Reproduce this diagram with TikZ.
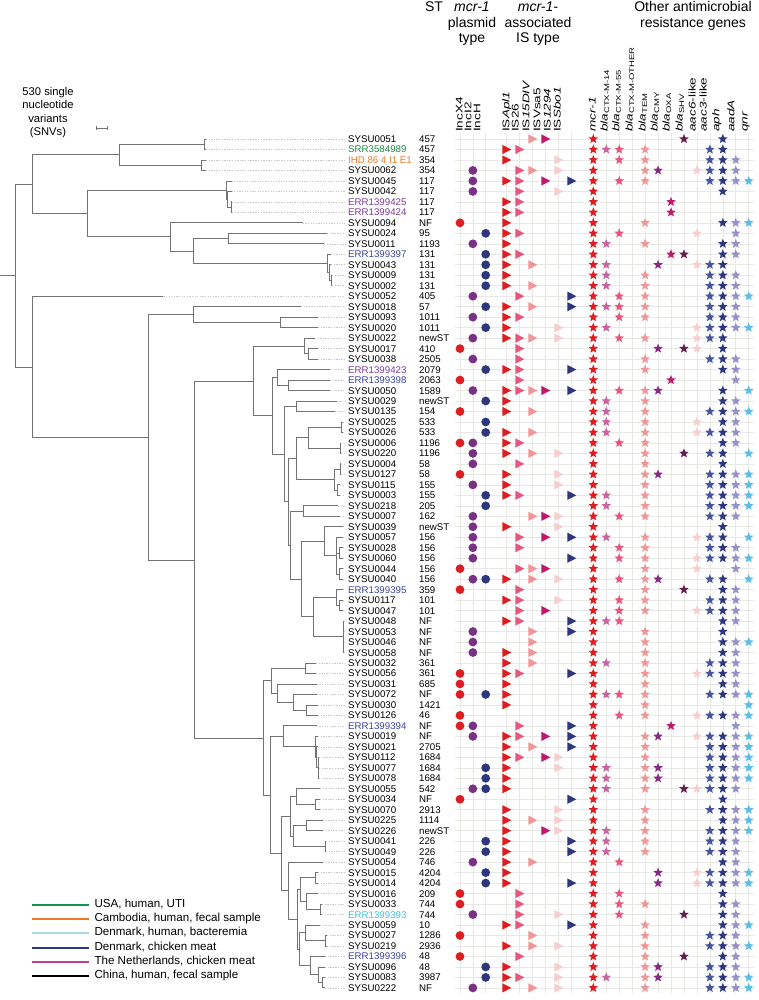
\documentclass[tikz,border=0pt]{standalone}
\usepackage{fontspec}
\setmainfont{Liberation Sans}
\usetikzlibrary{shapes.geometric}
\definecolor{cc1}{RGB}{220,30,35}
\definecolor{cc2}{RGB}{120,50,130}
\definecolor{cc3}{RGB}{45,55,125}
\definecolor{tc1}{RGB}{220,30,35}
\definecolor{tc2}{RGB}{232,85,125}
\definecolor{tc3}{RGB}{240,150,150}
\definecolor{tc4}{RGB}{190,25,110}
\definecolor{tc5}{RGB}{247,205,205}
\definecolor{tc6}{RGB}{45,55,125}
\definecolor{sc1}{RGB}{220,30,35}
\definecolor{sc2}{RGB}{200,100,160}
\definecolor{sc3}{RGB}{232,85,125}
\definecolor{sc4}{RGB}{240,120,150}
\definecolor{sc5}{RGB}{240,150,150}
\definecolor{sc6}{RGB}{130,45,130}
\definecolor{sc7}{RGB}{190,25,110}
\definecolor{sc8}{RGB}{100,30,80}
\definecolor{sc9}{RGB}{247,205,205}
\definecolor{sc10}{RGB}{70,85,160}
\definecolor{sc11}{RGB}{45,55,125}
\definecolor{sc12}{RGB}{150,145,200}
\definecolor{sc13}{RGB}{90,190,230}
\definecolor{labgreen}{RGB}{30,140,70}
\definecolor{laborange}{RGB}{240,120,40}
\definecolor{labpurple}{RGB}{125,60,150}
\definecolor{labblue}{RGB}{60,70,160}
\definecolor{labcyan}{RGB}{70,190,215}
\definecolor{leggreen}{RGB}{20,150,80}
\definecolor{legorange}{RGB}{240,120,40}
\definecolor{leglblue}{RGB}{170,215,230}
\definecolor{legdblue}{RGB}{40,55,140}
\definecolor{legmag}{RGB}{190,60,150}
\definecolor{treegray}{RGB}{115,115,115}
\definecolor{leadgray}{RGB}{200,200,200}
\definecolor{gridgray}{RGB}{232,232,228}
\newcommand\ry[1]{139+((#1)-1)*10.48}
\newcommand\tH[3]{\draw[tree] (#1,{\ry{#3}}) -- (#2,{\ry{#3}});}
\newcommand\tV[3]{\draw[tree] (#1,{\ry{#2}}) -- (#1,{\ry{#3}});}
\newcommand\tL[3]{\tH{#1}{#2}{#3}\draw[leader] (#2,{\ry{#3}}) -- (345,{\ry{#3}});}
\newcommand\tN[5]{\tH{#1}{#2}{#3}\tV{#2}{#4}{#5}}
\newcommand\collab[2]{\node[colhead] at (#1,132) {\scalebox{1.4}[1]{#2}};}
\begin{document}
\begin{tikzpicture}[x=1pt,y=-1pt,
  tree/.style={draw=treegray,line width=0.8pt,line cap=rect},
  leader/.style={draw=leadgray,line width=0.6pt,dash pattern=on 1.3pt off 1.3pt},
  gridl/.style={draw=gridgray,line width=0.6pt},
  starm/.style={star,star points=5,star point ratio=2.3,inner sep=0pt,minimum size=10pt,draw=none},
  rowlab/.style={anchor=base west,inner sep=0pt,font=\fontsize{9.7}{10}\selectfont},
  colhead/.style={rotate=90,anchor=mid west,inner sep=0pt,font=\fontsize{9.7}{10}\selectfont},
  head/.style={anchor=base,inner sep=0pt,font=\fontsize{14}{15}\selectfont},
  legtext/.style={anchor=mid west,inner sep=0pt,font=\fontsize{11.6}{12}\selectfont},
  legline/.style={line width=2pt}]
\useasboundingbox (0,0) rectangle (759,1000);
\fill[white] (0,0) rectangle (759,1000);
% grid
\foreach \gx in {460,472.85,485.7,506.7,519.7,532.7,545.7,558.7,571.7} \draw[gridl] (\gx,133) -- (\gx,993);
\foreach \k in {0,...,12} \draw[gridl] ({593.3+\k*12.95},133) -- ({593.3+\k*12.95},993);
\foreach \k in {1,...,82} \draw[gridl] (455,{\ry{\k}}) -- (754,{\ry{\k}});
% headers
\node[head] (hst) at (434,12) {ST};
\node[head] (hp1) at (472,12) {\textit{mcr-1}};
\node[head] (hp2) at (472,27.5) {plasmid};
\node[head] (hp3) at (472,43) {type};
\node[head] (hi1) at (538,12) {\textit{mcr-1-}};
\node[head] (hi2) at (538,27.5) {associated};
\node[head] (hi3) at (538,43) {IS type};
\node[head] (ho1) at (693,12) {Other antimicrobial};
\node[head] (ho2) at (693,27.5) {resistance genes};
\collab{460}{IncX4}
\collab{468.7}{IncI2}
\collab{477.7}{IncH}
\collab{506.7}{IS\textit{Apl1}}
\collab{516}{IS26}
\collab{526.7}{IS\textit{15DIV}}
\collab{537.7}{ISVsa5}
\collab{548}{IS\textit{1294}}
\collab{558}{IS\textit{Sbo1}}
\collab{593}{\textit{mcr-1}}
\collab{605}{\textit{bla}\textsubscript{CTX-M-14}}
\collab{616.7}{\textit{bla}\textsubscript{CTX-M-55}}
\collab{630}{\textit{bla}\textsubscript{CTX-M-OTHER}}
\collab{643}{\textit{bla}\textsubscript{TEM}}
\collab{655}{\textit{bla}\textsubscript{CMY}}
\collab{667}{\textit{bla}\textsubscript{OXA}}
\collab{680}{\textit{bla}\textsubscript{SHV}}
\collab{693}{\textit{aac6}-like}
\collab{704}{\textit{aac3}-like}
\collab{716.7}{\textit{aph}}
\collab{731.7}{\textit{aadA}}
\collab{745}{\textit{qnr}}
% scale
\node[font=\fontsize{11.2}{13.3}\selectfont,align=center,inner sep=0pt] (scl) at (48,112.5) {530 single\\nucleotide\\variants\\(SNVs)};
\draw[treegray,line width=0.7pt] (96.7,128.3) -- (107.7,128.3) (96.7,126.5) -- (96.7,130.1) (107.7,126.5) -- (107.7,130.1);
% markers
\foreach \rr/\lc/\lt/\ls in {
1/0/{3,4}/{1,8,11},
2/0/{1,2}/{1,2,3,5,10,11},
3/0/{1,5}/{1,3,5,10,11,12},
4/2/{2,3,5}/{1,5,6,9,10,11,12},
5/2/{1,2,4,6}/{1,3,5,10,11,12,13},
6/2/{2,5}/{1,11},
7/0/{1,2}/{1,7},
8/0/{1,2}/{1,7},
9/1/1/{1,5,11,12,13},
10/3/{1,2}/{1,3,9,12},
11/2/1/{1,2,5,11,12},
12/3/{1,2}/{1,7,8,11,12},
13/3/{1,3}/{1,2,6,9,10,11},
14/3/1/{1,2,5,10,11,12},
15/3/{1,3}/{1,2,5,10,11,12},
16/2/{2,6}/{1,3,5,10,11,12,13},
17/3/{1,3,6}/{1,2,3,5,10,11,12},
18/2/{1,2}/{1,3,5,10,11,12},
19/3/{1,5}/{1,2,9,10,11,12,13},
20/2/{1,2,3,5}/{1,3,5,9,10,11},
21/1/2/{1,6,8,9,11},
22/2/2/{1,5,10,11,12},
23/3/{1,2,6}/{1,5,11,12},
24/1/2/{1,7,12},
25/2/{1,2,3,4,6}/{1,3,5,6,11,13},
26/3/1/{1,2,5,11,12},
27/1/{1,3}/{1,2,5,10,11,12,13},
28/3/0/{1,2,5,9,11,12},
29/3/{1,3}/{1,2,5,9,10,11,12},
30/{1,2}/{1,2}/{1,3,5,11,12},
31/2/{1,3,5}/{1,5,8,10,11,13},
32/2/2/{1,5,11},
33/1/{1,5}/{1,5,6,10,11,12,13},
34/2/{1,5}/{1,5,10,11,12,13},
35/3/{1,2,6}/{1,2,5,10,11,12,13},
36/3/0/{1,2,5,10,11,12,13},
37/2/{3,4,5}/{1,3,5,10,11,12},
38/2/{1,5}/{1,11},
39/2/{2,4,6}/{1,2,5,9,10,11,13},
40/2/2/{1,3,5,10,11,12},
41/2/6/{1,3,5,9,10,11,12,13},
42/1/{2,3,4}/{1,5,9,12},
43/{2,3}/{1,3,5}/{1,3,5,6,10,11,13},
44/1/2/{1,5,8,11,12},
45/0/{1,2,5}/{1,3,5,10,11,12},
46/0/{2,4}/{1,3,5,9,10,11,12},
47/0/{1,2,6}/{1,2,3,11,12},
48/2/{3,6}/{1,5,11},
49/2/3/{1,5,11,12,13},
50/2/{1,3}/{1,5,11,12},
51/0/{1,3}/{1,2,5,10,11,12},
52/1/{1,2,6}/{1,5,9,10,11,12},
53/1/1/{1,5,11,12},
54/{1,3}/1/{1,2,3,5,10,11,12,13},
55/0/1/{1,5,13},
56/1/0/{1,3,5,9,10,11,12,13},
57/{1,2}/{2,6}/{1,7,12},
58/2/{1,2,4,6}/{1,5,6,9,10,11,12,13},
59/0/{1,3,6}/{1,5,10,11,12,13},
60/0/{1,2,4,5}/{1,5,10,11,12,13},
61/3/{1,5}/{1,2,5,6,10,11,12,13},
62/3/1/{1,2,5,6,10,11,12,13},
63/{2,3}/1/{1,2,5,8,9,10,11,12},
64/1/6/{1,11},
65/0/{1,5}/{1,5,10,11,12,13},
66/0/{1,3,5}/{1,5,11,12,13},
67/0/{1,4,5}/{1,2,5,10,11,12,13},
68/3/{1,6}/{1,2,5,10,11,12},
69/3/{1,6}/{1,2,5,10,11,12},
70/2/{1,3}/{1,3,11,12},
71/3/1/{1,6,9,10,11,12,13},
72/3/{1,6}/{1,6,9,10,11,12,13},
73/1/2/{1,3,11},
74/1/2/{1,3,5,11,12},
75/2/{2,5}/{1,3,8,11,12},
76/0/{1,2,6}/{1,5,11,12,13},
77/1/3/{1,5,10,11,12},
78/0/{1,3,5}/{1,5,10,11,12,13},
79/1/2/{1,5,8,11,12},
80/3/{1,5}/{1,5,6,10,11,12},
81/3/{1,2,5}/{1,2,5,6,10,11,12,13},
82/2/{1,3,5}/{1,5,10,11,12,13}}{
  \pgfmathsetmacro\yy{\ry{\rr}}
  \foreach \ci in \lc {\ifnum\ci>0 \fill[cc\ci] ({460+(\ci-1)*12.85},\yy) circle[radius=4.4];\fi}
  \foreach \ti in \lt {\ifnum\ti>0 \fill[tc\ti] ({506.7+(\ti-1)*13-4.3},{\yy-4.6}) -- ++(8.9,4.6) -- ++(-8.9,4.6) -- cycle;\fi}
  \foreach \si in \ls {\node[starm,fill=sc\si] at ({593.3+(\si-1)*12.95},\yy) {};}
}
% labels
\foreach \rr/\nm/\st/\lcol in {
1/SYSU0051/457/black, 2/SRR3584989/457/labgreen, 3/IHD 86 4 I1 E1/354/laborange,
4/SYSU0062/354/black, 5/SYSU0045/117/black, 6/SYSU0042/117/black,
7/ERR1399425/117/labpurple, 8/ERR1399424/117/labpurple, 9/SYSU0094/NF/black,
10/SYSU0024/95/black, 11/SYSU0011/1193/black, 12/ERR1399397/131/labblue,
13/SYSU0043/131/black, 14/SYSU0009/131/black, 15/SYSU0002/131/black,
16/SYSU0052/405/black, 17/SYSU0018/57/black, 18/SYSU0093/1011/black,
19/SYSU0020/1011/black, 20/SYSU0022/newST/black, 21/SYSU0017/410/black,
22/SYSU0038/2505/black, 23/ERR1399423/2079/labpurple, 24/ERR1399398/2063/labblue,
25/SYSU0050/1589/black, 26/SYSU0029/newST/black, 27/SYSU0135/154/black,
28/SYSU0025/533/black, 29/SYSU0026/533/black, 30/SYSU0006/1196/black,
31/SYSU0220/1196/black, 32/SYSU0004/58/black, 33/SYSU0127/58/black,
34/SYSU0115/155/black, 35/SYSU0003/155/black, 36/SYSU0218/205/black,
37/SYSU0007/162/black, 38/SYSU0039/newST/black, 39/SYSU0057/156/black,
40/SYSU0028/156/black, 41/SYSU0060/156/black, 42/SYSU0044/156/black,
43/SYSU0040/156/black, 44/ERR1399395/359/labblue, 45/SYSU0117/101/black,
46/SYSU0047/101/black, 47/SYSU0048/NF/black, 48/SYSU0053/NF/black,
49/SYSU0046/NF/black, 50/SYSU0058/NF/black, 51/SYSU0032/361/black,
52/SYSU0056/361/black, 53/SYSU0031/685/black, 54/SYSU0072/NF/black,
55/SYSU0030/1421/black, 56/SYSU0126/46/black, 57/ERR1399394/NF/labblue,
58/SYSU0019/NF/black, 59/SYSU0021/2705/black, 60/SYSU0112/1684/black,
61/SYSU0077/1684/black, 62/SYSU0078/1684/black, 63/SYSU0055/542/black,
64/SYSU0034/NF/black, 65/SYSU0070/2913/black, 66/SYSU0225/1114/black,
67/SYSU0226/newST/black, 68/SYSU0041/226/black, 69/SYSU0049/226/black,
70/SYSU0054/746/black, 71/SYSU0015/4204/black, 72/SYSU0014/4204/black,
73/SYSU0016/209/black, 74/SYSU0033/744/black, 75/ERR1399393/744/labcyan,
76/SYSU0059/10/black, 77/SYSU0027/1286/black, 78/SYSU0219/2936/black,
79/ERR1399396/48/labblue, 80/SYSU0096/48/black, 81/SYSU0083/3987/black,
82/SYSU0222/NF/black}{
  \node[rowlab,text=\lcol] (n\rr) at (348,{\ry{\rr}+3.5}) {\nm};
  \node[rowlab] (s\rr) at (419,{\ry{\rr}+3.5}) {\st};
}
% tree
\tH{0}{15}{14.0}
\tV{15}{5.3}{22.75}
\tN{15}{32.3}{5.3}{2.5}{8.11}
\tN{32.3}{119.3}{2.5}{1.5}{3.5}
\tN{119.3}{204}{1.5}{1}{2}\tL{204}{206}{1}\tL{204}{206}{2}
\tN{119.3}{201}{3.5}{3}{4}\tL{201}{206}{3}\tL{201}{206}{4}
\tN{32.3}{87.3}{8.11}{5.875}{10.34}
\tN{87.3}{226.7}{5.875}{5}{6.75}\tL{226.7}{231.5}{5}
\tN{226.7}{227.7}{6.75}{6}{7.5}\tL{227.7}{231.5}{6}
\tN{227.7}{231}{7.5}{7}{8}\tL{231}{232}{7}\tL{231}{232}{8}
\tN{87.3}{170.7}{10.34}{9}{11.69}\tL{170.7}{302.7}{9}
\tN{170.7}{193.3}{11.69}{10.5}{12.875}
\tN{193.3}{228.3}{10.5}{10}{11}\tL{228.3}{327}{10}\tL{228.3}{324}{11}
\tN{193.3}{327.3}{12.875}{12}{13.75}\tL{327.3}{331}{12}
\tN{327.3}{329.5}{13.75}{13}{14.5}\tL{329.5}{331}{13}
\tN{329.5}{331.5}{14.5}{14}{15}\tL{331.5}{332}{14}\tL{331.5}{332}{15}
\tN{15}{32.3}{22.75}{16}{29.5}\tL{32.3}{163.3}{16}
\tN{32.3}{148.3}{29.5}{17.75}{41.2}
\tN{148.3}{193.3}{17.75}{17}{18.5}\tL{193.3}{301}{17}
\tN{193.3}{280}{18.5}{18}{19}\tL{280}{318}{18}\tL{280}{318}{19}
\tN{148.3}{194.3}{41.2}{24.1}{58.15}
\tN{194.3}{253.3}{24.1}{20.75}{27.4}
\tN{253.3}{304}{20.75}{20}{21.5}\tL{304}{315}{20}
\tN{304}{308.3}{21.5}{21}{22}\tL{308.3}{318}{21}\tL{308.3}{318}{22}
\tN{253.3}{272.7}{27.4}{23.75}{31.05}
\tN{272.7}{277.3}{23.75}{23}{24.5}\tL{277.3}{330}{23}
\tN{277.3}{288.3}{24.5}{24}{25}\tL{288.3}{330}{24}\tL{288.3}{330}{25}
\tN{272.7}{284.3}{31.05}{26.5}{35.6}
\tN{284.3}{296.7}{26.5}{26}{27}\tL{296.7}{336.7}{26}\tL{296.7}{335}{27}
\tN{284.3}{288}{35.6}{31.5}{39.75}
\tN{288}{296}{31.5}{29.5}{33.5}
\tN{296}{308.3}{29.5}{28.5}{30.5}
\tN{308.3}{341.7}{28.5}{28}{29}\tL{341.7}{342.5}{28}\tL{341.7}{342.5}{29}
\tN{308.3}{340}{30.5}{30}{31}\tL{340}{341}{30}\tL{340}{341}{31}
\tN{296}{334.3}{33.5}{32.5}{34.5}
\tN{334.3}{340}{32.5}{32}{33}\tL{340}{341}{32}\tL{340}{341}{33}
\tN{334.3}{337.3}{34.5}{34}{35}\tL{337.3}{340}{34}\tL{337.3}{340}{35}
\tN{288}{290.5}{39.75}{36.5}{43}
\tN{290.5}{303.3}{36.5}{36}{37}\tL{303.3}{338}{36}\tL{303.3}{340}{37}
\tN{290.5}{301.7}{43}{39.4}{46.6}
\tN{301.7}{324}{39.4}{38}{40.75}\tL{324}{343}{38}
\tN{324}{336.7}{40.75}{39}{42.5}\tL{336.7}{343}{39}
\tN{336.7}{339.7}{40.5}{40}{41}\tL{339.7}{343}{40}\tL{339.7}{343}{41}
\tN{336.7}{339.7}{42.5}{42}{43}\tL{339.7}{343}{42}\tL{339.7}{343}{43}
\tN{301.7}{313.3}{46.6}{44.75}{48.5}
\tN{313.3}{336.7}{44.75}{44}{45.5}\tL{336.7}{343}{44}
\tN{336.7}{339}{45.5}{45}{46}\tL{339}{343}{45}\tL{339}{343}{46}
\tN{313.3}{343.3}{48.5}{47}{50}\tL{343.3}{344}{47}\tL{343.3}{344}{48}\tL{343.3}{344}{49}\tL{343.3}{344}{50}
\tN{194.3}{263.3}{58.15}{52.7}{63.6}
\tN{263.3}{271}{52.7}{51.5}{53.9}
\tN{271}{305}{51.5}{51}{52}\tL{305}{316}{51}\tL{305}{316}{52}
\tN{271}{277.3}{53.9}{53}{54.75}\tL{277.3}{316.7}{53}
\tN{277.3}{293.3}{54.75}{54}{55.5}\tL{293.3}{316.7}{54}
\tN{293.3}{306.7}{55.5}{55}{56}\tL{306.7}{318}{55}\tL{306.7}{318}{56}
\tN{263.3}{270.7}{63.6}{58}{69.2}
\tN{270.7}{283.3}{58}{57}{59}\tL{283.3}{316.7}{57}
\tN{283.3}{315}{59}{58}{60}\tL{315}{318}{58}
\tN{315}{316.5}{60}{59}{61}\tL{316.5}{318}{59}
\tN{316.5}{318}{61}{60}{62}\tL{318}{319}{60}\tL{318}{319}{61}\tL{318}{319}{62}
\tN{270.7}{281.7}{69.2}{65.6}{72.7}
\tN{281.7}{290}{65.6}{63.75}{67.5}
\tN{290}{296.7}{63.75}{63}{64.5}\tL{296.7}{320}{63}
\tN{296.7}{315}{64.5}{64}{65}\tL{315}{320}{64}\tL{315}{320}{65}
\tN{290}{293.3}{67.5}{66.5}{68.5}
\tN{293.3}{306.7}{66.5}{66}{67}\tL{306.7}{323}{66}\tL{306.7}{323}{67}
\tN{293.3}{325}{68.5}{68}{69}\tL{325}{326}{68}\tL{325}{326}{69}
\tN{281.7}{288.3}{72.7}{70}{75.5}\tL{288.3}{323}{70}
\tN{288.3}{297}{75.5}{72.6}{78.3}
\tN{297}{300.7}{72.6}{71.5}{73.75}
\tN{300.7}{315}{71.5}{71}{72}\tL{315}{318}{71}\tL{315}{318}{72}
\tN{300.7}{306}{73.75}{73}{74.5}\tL{306}{318}{73}
\tN{306}{320}{74.5}{74}{75}\tL{320}{322}{74}\tL{320}{322}{75}
\tN{297}{299.5}{78.3}{76.75}{79.9}
\tN{299.5}{305}{76.75}{76}{77.5}\tL{305}{320}{76}
\tN{305}{325}{77.5}{77}{78}\tL{325}{327}{77}\tL{325}{327}{78}
\tN{299.5}{310}{79.9}{79}{80.75}\tL{310}{325}{79}
\tN{310}{318}{80.75}{80}{81.5}\tL{318}{325}{80}
\tN{318}{322}{81.5}{81}{82}\tL{322}{325}{81}\tL{322}{325}{82}
% legend
\draw[legline,leggreen] (32.3,905) -- (89.3,905); \node[legtext] (l1) at (94.3,905) {USA, human, UTI};
\draw[legline,legorange] (32.3,919.3) -- (89.3,919.3); \node[legtext] (l2) at (94.3,919.3) {Cambodia, human, fecal sample};
\draw[legline,leglblue] (32.3,933.3) -- (89.3,933.3); \node[legtext] (l3) at (94.3,933.3) {Denmark, human, bacteremia};
\draw[legline,legdblue] (32.3,947.7) -- (89.3,947.7); \node[legtext] (l4) at (94.3,947.7) {Denmark, chicken meat};
\draw[legline,legmag] (32.3,961.7) -- (89.3,961.7); \node[legtext] (l5) at (94.3,961.7) {The Netherlands, chicken meat};
\draw[legline,black] (32.3,976) -- (89.3,976); \node[legtext] (l6) at (94.3,976) {China, human, fecal sample};
\end{tikzpicture}
\end{document}
